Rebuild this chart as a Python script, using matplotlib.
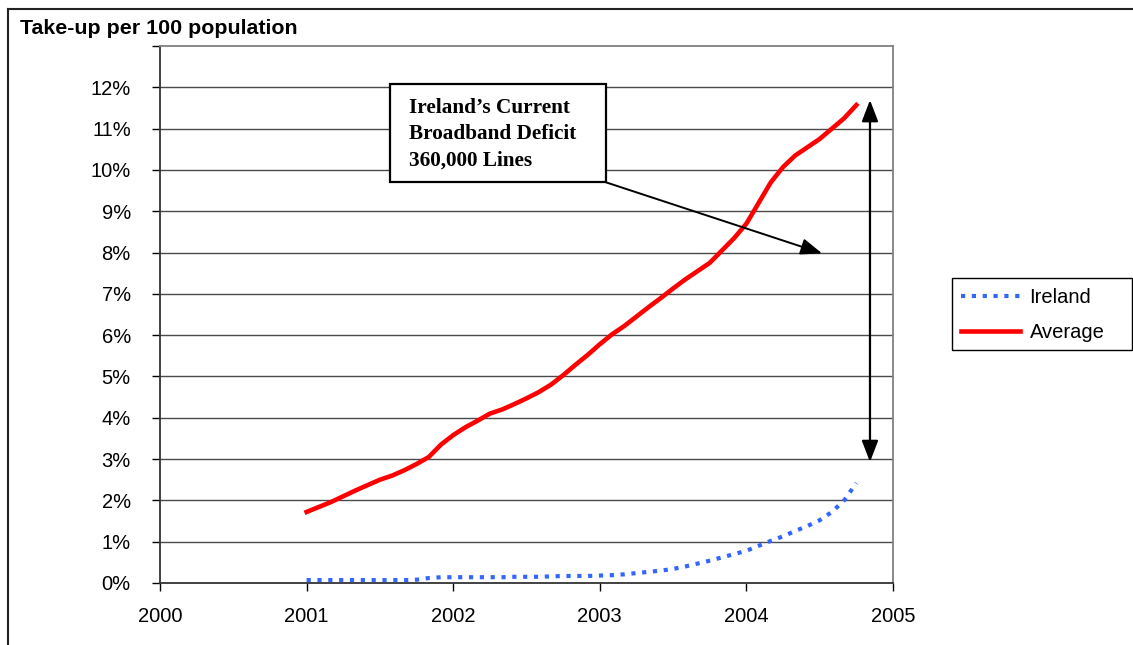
import matplotlib.pyplot as plt
from matplotlib.lines import Line2D
from matplotlib.patches import Rectangle
import numpy as np

plt.rcParams['font.family'] = ['Liberation Sans', 'DejaVu Sans']

# monthly take-up per 100 population, Jan 2001 .. Oct 2004
months = np.arange(46)
years = 2001 + months / 12

average = [1.72, 1.84, 1.96, 2.10, 2.24, 2.37, 2.50, 2.60, 2.73, 2.88, 3.05, 3.35,
           3.58, 3.77, 3.93, 4.10, 4.20, 4.33, 4.47, 4.62, 4.80, 5.03, 5.28, 5.52,
           5.78, 6.02, 6.22, 6.45, 6.68, 6.90, 7.13, 7.35, 7.55, 7.75, 8.05, 8.35,
           8.70, 9.20, 9.70, 10.07, 10.35, 10.55, 10.75, 11.00, 11.25, 11.57]

ireland = [0.07, 0.07, 0.07, 0.07, 0.07, 0.07, 0.07, 0.07, 0.07, 0.08, 0.12, 0.14,
           0.14, 0.14, 0.14, 0.14, 0.14, 0.15, 0.15, 0.15, 0.16, 0.17, 0.17, 0.17,
           0.18, 0.19, 0.21, 0.24, 0.27, 0.30, 0.34, 0.40, 0.47, 0.54, 0.62, 0.70,
           0.78, 0.90, 1.02, 1.13, 1.26, 1.38, 1.52, 1.72, 2.00, 2.42]

year_ticks = [2000, 2001, 2002, 2003, 2004, 2005]
pct_ticks = list(range(0, 14))

W, H = 1133, 645
fig = plt.figure(figsize=(W / 100, H / 100), dpi=100)
ax = fig.add_axes([160 / W, 1 - 583 / H, (893 - 160) / W, (583 - 46) / H])

l_ire, = ax.plot(years, ireland, color='#3366ff', lw=3.0, ls=(0, (1, 1.6)),
                 dash_capstyle='butt', label='Ireland', zorder=3)
l_avg, = ax.plot(years, average, color='#ff0000', lw=3.3, label='Average',
                 zorder=3, solid_joinstyle='round')

ax.set_xlim(2000, 2005)
ax.set_ylim(0, 13)
ax.set_xticks(year_ticks)
ax.set_xticklabels([str(y) for y in year_ticks])
ax.set_yticks(pct_ticks)
ax.set_yticklabels([f'{p}%' if p < 13 else '' for p in pct_ticks])
ax.tick_params(axis='both', labelsize=14.5, direction='out', length=6, width=1,
               color='black')
ax.tick_params(axis='y', pad=15)
ax.tick_params(axis='x', pad=11)

for p in pct_ticks[1:13]:
    ax.axhline(p, color='#4a4a4a', lw=1, zorder=1)

for s in ('top', 'right'):
    ax.spines[s].set_color('#808080')
    ax.spines[s].set_linewidth(1.3)
for s in ('left', 'bottom'):
    ax.spines[s].set_color('#333333')
    ax.spines[s].set_linewidth(1.3)

# deficit callout box and arrows
ax.add_patch(Rectangle((2001.569, 9.70), 2003.042 - 2001.569, 12.07 - 9.70,
                       facecolor='white', edgecolor='black', lw=1.6, zorder=4,
                       clip_on=False))
ax.text(2001.70, 10.86, 'Ireland\u2019s Current\nBroadband Deficit\n360,000 Lines',
        family=['Liberation Serif', 'DejaVu Serif'], fontweight='bold',
        fontsize=15.3, va='center', ha='left', linespacing=1.4, zorder=5)
ax.annotate('', xy=(2004.516, 7.98), xytext=(2003.042, 9.70),
            arrowprops=dict(arrowstyle='-|>,head_length=1.3,head_width=0.5',
                            color='black', lw=1.4, shrinkA=0, shrinkB=0),
            zorder=5)
ax.annotate('', xy=(2004.843, 11.69), xytext=(2004.843, 2.93),
            arrowprops=dict(arrowstyle='<|-|>,head_length=1.3,head_width=0.5',
                            color='black', lw=1.6, shrinkA=0, shrinkB=0),
            zorder=5)

fig.text(20 / W, 1 - 29 / H, 'Take-up per 100 population', fontsize=15.4,
         fontweight='bold', va='center', ha='left')

# legend: fixed-size frame with the entries placed inside it
fig.add_artist(Rectangle((952 / W, 1 - 350 / H), 180 / W, 72 / H,
                         transform=fig.transFigure, facecolor='white',
                         edgecolor='black', lw=1.0))
leg = fig.legend(handles=[l_ire, l_avg], loc='center left',
                 bbox_to_anchor=(961 / W, 1 - 315 / H), fontsize=14.5,
                 frameon=False, handlelength=2.95, handletextpad=0.45,
                 labelspacing=0.75, borderpad=0, borderaxespad=0)

# outer frame lines (top and left)
fig.add_artist(Line2D([8 / W, 1], [1 - 9 / H, 1 - 9 / H], color='#222222',
                      lw=1.5, transform=fig.transFigure))
fig.add_artist(Line2D([8 / W, 8 / W], [0, 1 - 9 / H], color='#222222',
                      lw=1.5, transform=fig.transFigure))

fig.savefig('out.png', dpi=100)
